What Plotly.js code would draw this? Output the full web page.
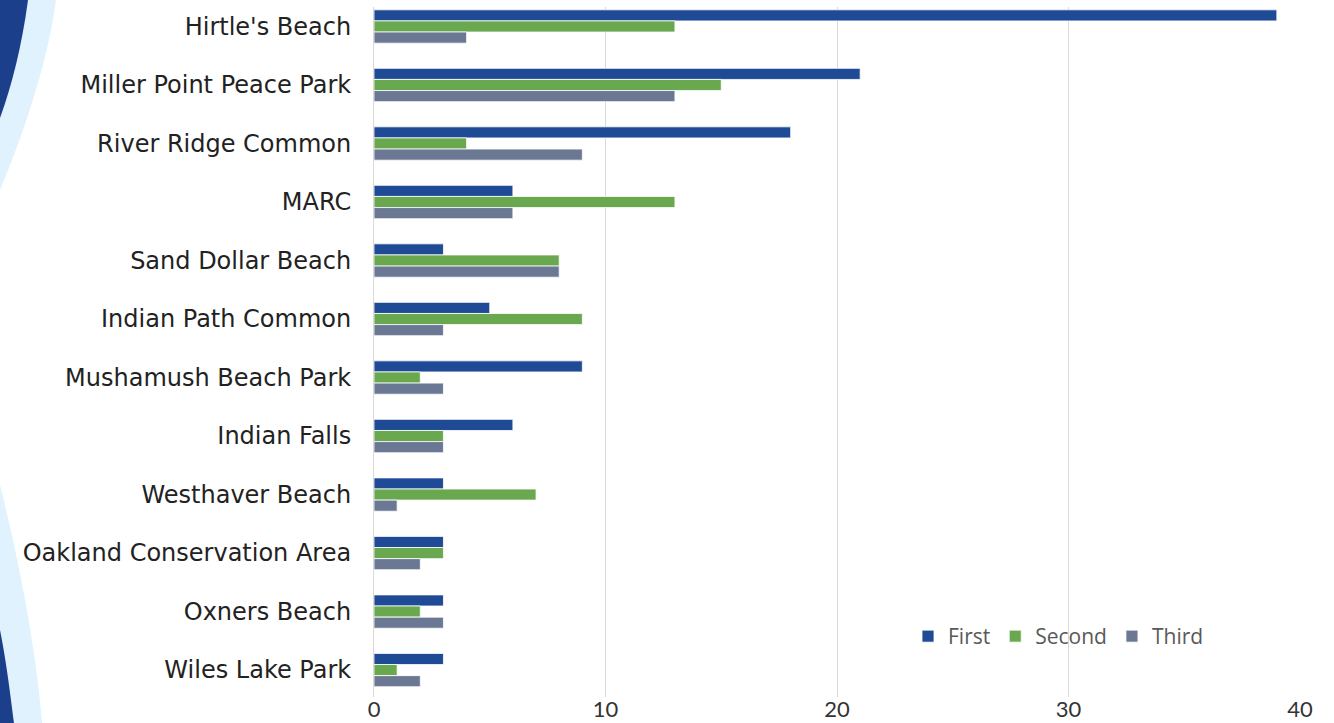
<!DOCTYPE html>
<html>
<head>
<meta charset="utf-8">
<script src="https://cdn.plot.ly/plotly-3.0.1.min.js"></script>
<style>html,body{margin:0;padding:0;background:#fff;}#chart{width:1334px;height:723px;}</style>
</head>
<body>
<div id="chart"></div>
<script>
const categories = ["Hirtle's Beach", "Miller Point Peace Park", "River Ridge Common", "MARC", "Sand Dollar Beach", "Indian Path Common", "Mushamush Beach Park", "Indian Falls", "Westhaver Beach", "Oakland Conservation Area", "Oxners Beach", "Wiles Lake Park"];
const firstVals  = [39, 21, 18, 6, 3, 5, 9, 6, 3, 3, 3, 3];
const secondVals = [13, 15, 4, 13, 8, 9, 2, 3, 7, 3, 2, 1];
const thirdVals  = [4, 13, 9, 6, 8, 3, 3, 3, 1, 2, 3, 2];
const seriesNames = ["First", "Second", "Third"];
const xTicks = [0, 10, 20, 30, 40];

const W = 1334, H = 723;
const L = 374, R = 1300, T = 7, B = 697;
const px = x => (x - L) / (R - L);
const py = y => (B - y) / (B - T);
function path(pts) {
  return pts.map(p => p.map((v, i) => (i % 2 === 0 ? px(v) : py(v)).toFixed(5)).join(',')).join(' ');
}

const colors = ["#1f4a96", "#6aa84f", "#6b7893"];
const vals = [firstVals, secondVals, thirdVals];
const traces = vals.map((v, i) => ({
  type: 'bar', orientation: 'h', name: seriesNames[i],
  x: v, y: categories,
  marker: {color: colors[i], line: {color: '#ffffff', width: 0.8}},
  hoverinfo: 'x+y+name'
}));

const shapes = [
  {type: 'path', xref: 'paper', yref: 'paper', layer: 'below', line: {width: 0}, fillcolor: '#e0f2fd',
   path: 'M' + path([[0, 0]]) + ' L' + path([[56, 0]]) + ' C' + path([[48, 60], [25, 130], [0, 190]]) + ' Z'},
  {type: 'path', xref: 'paper', yref: 'paper', layer: 'below', line: {width: 0}, fillcolor: '#1b3f8b',
   path: 'M' + path([[0, 0]]) + ' L' + path([[28, 0]]) + ' C' + path([[22, 45], [12, 85], [0, 118]]) + ' Z'},
  {type: 'path', xref: 'paper', yref: 'paper', layer: 'below', line: {width: 0}, fillcolor: '#e0f2fd',
   path: 'M' + path([[0, 485]]) + ' C' + path([[20, 565], [36, 650], [42, 723]]) + ' L' + path([[0, 723]]) + ' Z'},
  {type: 'path', xref: 'paper', yref: 'paper', layer: 'below', line: {width: 0}, fillcolor: '#1b3f8b',
   path: 'M' + path([[0, 630]]) + ' C' + path([[7, 665], [11, 700], [14, 723]]) + ' L' + path([[0, 723]]) + ' Z'}
];

const layout = {
  width: W, height: H,
  margin: {l: L, r: W - R, t: T, b: H - B, pad: 0},
  paper_bgcolor: '#ffffff', plot_bgcolor: '#ffffff',
  barmode: 'group', bargap: 0.43, bargroupgap: 0,
  showlegend: true,
  legend: {orientation: 'h', x: px(908), y: py(616), xanchor: 'left', yanchor: 'top',
           font: {family: 'Open Sans, sans-serif', size: 21, color: '#595959'},
           bgcolor: 'rgba(0,0,0,0)', itemwidth: 30, traceorder: 'normal'},
  xaxis: {range: [0, 40], tickvals: xTicks, showgrid: true, gridcolor: '#d9d9d9', gridwidth: 1,
          zeroline: false, showline: false, ticks: '', fixedrange: true,
          tickfont: {family: 'Lato, sans-serif', size: 22, color: '#333333'}, ticklabelstandoff: -3},
  yaxis: {type: 'category', range: [11.46, -0.333], showgrid: false, zeroline: false,
          showline: true, linecolor: '#d9d9d9', linewidth: 1, ticks: '', ticklabelstandoff: 17,
          tickfont: {family: 'DejaVu Sans, sans-serif', size: 24, color: '#222222'}, fixedrange: true},
  shapes: shapes
};

Plotly.newPlot('chart', traces, layout, {displayModeBar: false, staticPlot: true});
</script>
</body>
</html>
